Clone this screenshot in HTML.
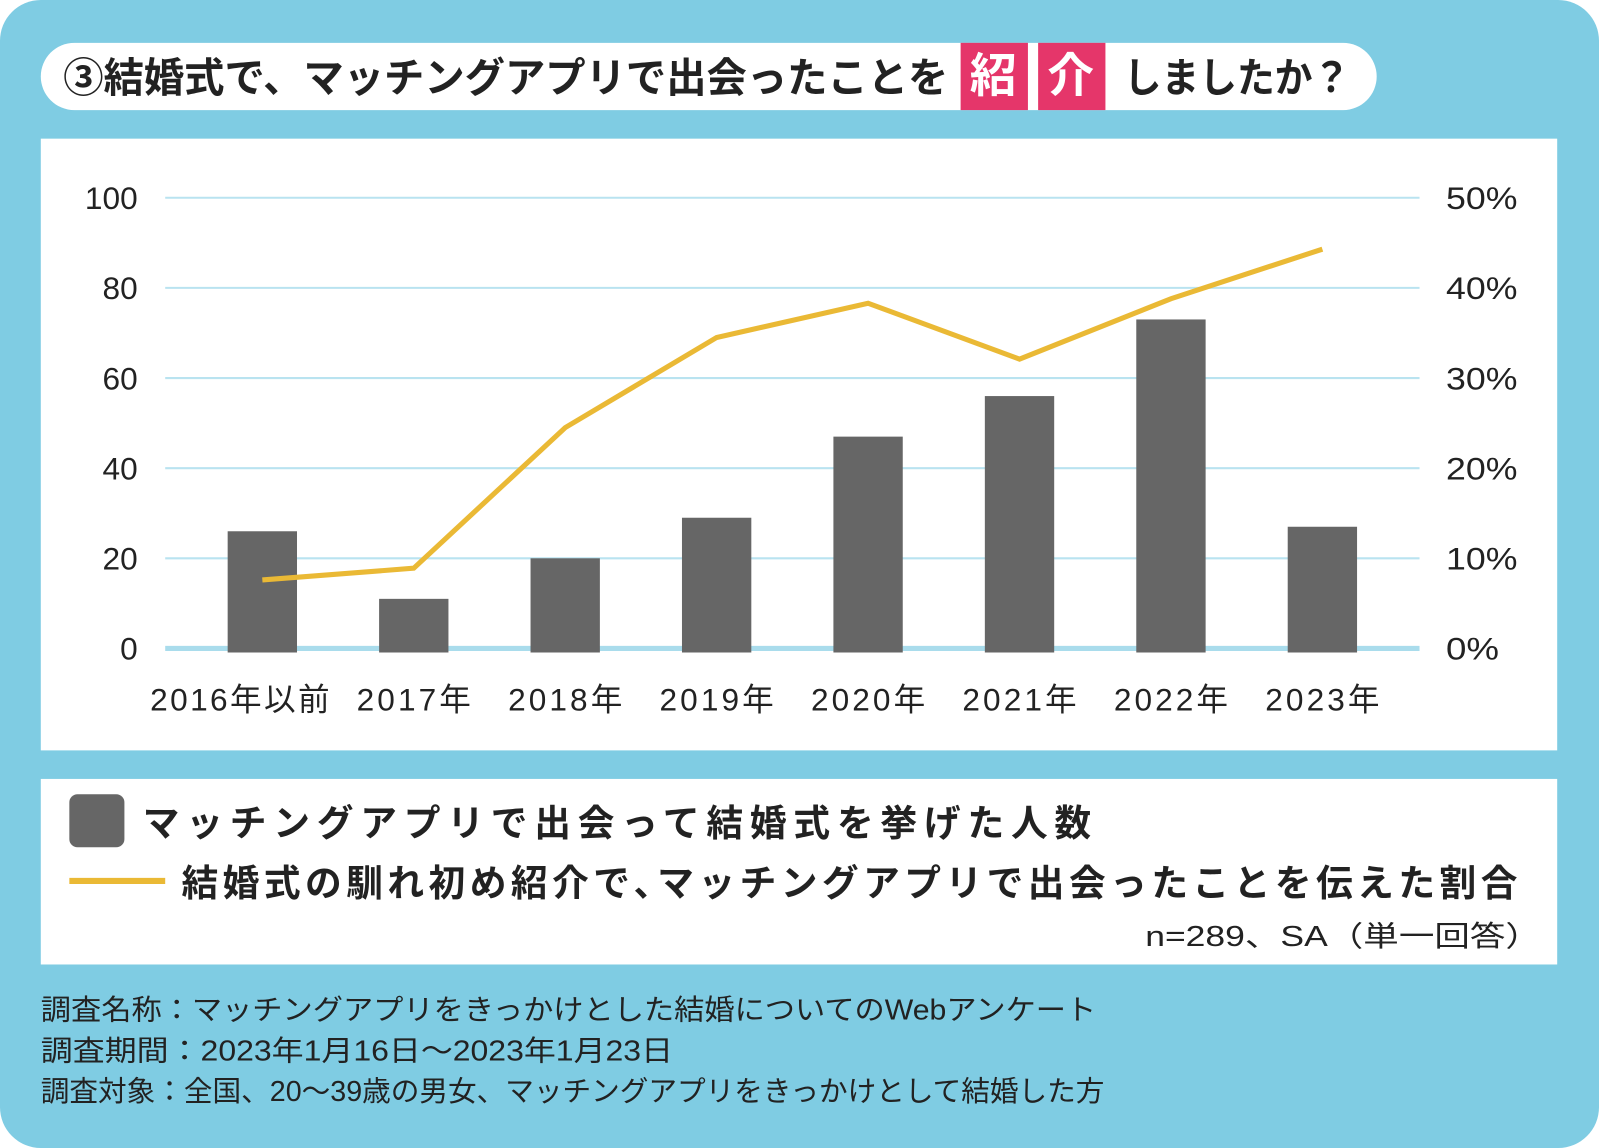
<!DOCTYPE html>
<html><head><meta charset="utf-8"><style>
html,body{margin:0;padding:0;width:1599px;height:1148px;overflow:hidden;background:#fff}
svg{display:block}
text{font-family:"Liberation Sans","Noto Sans CJK JP",sans-serif}
</style></head><body>
<svg id="c" width="1599" height="1148" viewBox="0 0 1568 1126" preserveAspectRatio="none">
<rect x="0" y="0" width="1568" height="1126" rx="40" fill="#7fcce3"/>
<rect x="40" y="42" width="1310" height="66" rx="33" fill="#fff"/>
<g font-size="40" font-weight="bold" fill="#222">
<text x="62" y="90" textLength="868" lengthAdjust="spacingAndGlyphs">③結婚式で、マッチングアプリで出会ったことを</text>
<rect x="942" y="42" width="66" height="66" fill="#e5366a"/>
<rect x="1018" y="42" width="66" height="66" fill="#e5366a"/>
<text x="951" y="90" fill="#fff" font-size="46">紹</text>
<text x="1027" y="90" fill="#fff" font-size="46">介</text>
<text x="1102" y="90" textLength="222" lengthAdjust="spacingAndGlyphs">しましたか？</text>
</g>
<rect x="40" y="136" width="1487" height="600" fill="#fff"/>
<g id="grid"></g>
<g id="bars"></g>
<g id="line"></g>
<g id="ticks" font-size="31" fill="#222"></g>
<rect x="40" y="764" width="1487" height="182" fill="#fff"/>
<g>
<rect x="68" y="779" width="54" height="52" rx="8" fill="#666"/>
<text x="140" y="820" font-size="36" font-weight="bold" fill="#222" textLength="930" lengthAdjust="spacing">マッチングアプリで出会って結婚式を挙げた人数</text>
</g>
<g>
<line x1="68" y1="864" x2="162" y2="864" stroke="#eab935" stroke-width="6"/>
<text x="178" y="879" font-size="36" font-weight="bold" fill="#222" textLength="1310" lengthAdjust="spacing">結婚式の馴れ初め紹介で､マッチングアプリで出会ったことを伝えた割合</text>
</g>
<text x="1123" y="928" font-size="28" fill="#222" textLength="388" lengthAdjust="spacingAndGlyphs">n=289、SA（単一回答）</text>
<g font-size="28" fill="#222">
<text x="40" y="1000" textLength="1035" lengthAdjust="spacingAndGlyphs">調査名称：マッチングアプリをきっかけとした結婚についてのWebアンケート</text>
<text x="40" y="1040" textLength="620" lengthAdjust="spacingAndGlyphs">調査期間：2023年1月16日～2023年1月23日</text>
<text x="40" y="1080" textLength="1043" lengthAdjust="spacingAndGlyphs">調査対象：全国、20～39歳の男女、マッチングアプリをきっかけとして結婚した方</text>
</g>
</svg>
<script>
const categories=["2016年以前","2017年","2018年","2019年","2020年","2021年","2022年","2023年"];
const counts=[26,11,20,29,47,56,73,27];
const ratios=[7.6,8.9,24.5,34.5,38.3,32.1,38.8,44.3];
const leftTicks=[0,20,40,60,80,100];
const rightTicks=["0%","10%","20%","30%","40%","50%"];
const NS="http://www.w3.org/2000/svg";
const X0=183,X1=1371,Y0=636,Y1=194;
const bw=(X1-X0)/categories.length;
const xc=i=>X0+bw*(i+0.5);
const yL=v=>Y0-(v/100)*(Y0-Y1);
const yR=p=>Y0-(p/50)*(Y0-Y1);
function mk(t,a,p){const e=document.createElementNS(NS,t);for(const k in a)e.setAttribute(k,a[k]);p.appendChild(e);return e;}
const g=document.getElementById('grid'),b=document.getElementById('bars'),l=document.getElementById('line'),t=document.getElementById('ticks');
leftTicks.forEach((v,i)=>{
 const ln=mk('line',{x1:162,x2:1392,y1:yL(v),y2:yL(v),stroke:v===0?'#a9dcec':'#b9e3f0','stroke-width':v===0?5:2},g);
 
 
 const a=mk('text',{x:135,y:yL(v)+11,'text-anchor':'end'},t);a.textContent=v;
 
 
 const r=mk('text',{x:1418,y:yL(v)+11,textLength:String(rightTicks[i]).length>2?70:52,lengthAdjust:'spacingAndGlyphs'},t);r.textContent=rightTicks[i];
 
 
});
counts.forEach((v,i)=>{
 const r=mk('rect',{x:xc(i)-34,y:yL(v),width:68,height:Y0+4-yL(v),fill:'#666'},b);
 
 
 const wide=categories[i].length>5;
 const w=wide?176:112, cx=wide?xc(i)-22:xc(i);
 const c=mk('text',{x:cx-w/2,y:697,textLength:w,lengthAdjust:'spacing'},t);c.textContent=categories[i];
 
 
});
const pl=mk('polyline',{points:ratios.map((p,i)=>xc(i)+','+yR(p)).join(' '),fill:'none',stroke:'#eab935','stroke-width':5,'stroke-linejoin':'miter'},l);


</script>
</body></html>
